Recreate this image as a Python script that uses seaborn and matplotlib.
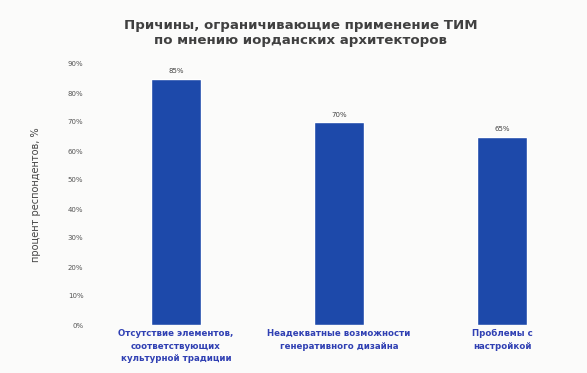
import matplotlib
matplotlib.use("Agg")
import matplotlib.pyplot as plt
import seaborn as sns
import pandas as pd

categories = ["Отсутствие элементов,\nсоответствующих\nкультурной традиции",
              "Неадекватные возможности\nгенеративного дизайна",
              "Проблемы с\nнастройкой"]
values = [85, 70, 65]
yticks = [0, 10, 20, 30, 40, 50, 60, 70, 80, 90]
ytick_labels = [f"{v}%" for v in yticks]
title = "Причины, ограничивающие применение ТИМ\nпо мнению иорданских архитекторов"
ylabel = "процент респондентов, %"

sns.set_theme(style="white")
plt.rcParams['font.family'] = ['DejaVu Sans']

df = pd.DataFrame({"cat": categories, "val": values})
fig = plt.figure(figsize=(5.87, 3.73), dpi=100)
fig.patch.set_facecolor("#fbfbfa")
ax = fig.add_axes([94.5/587, (373-325)/373, 489/587, (325-64)/373])
ax.set_facecolor("#fbfbfa")
sns.barplot(data=df, x="cat", y="val", color="#1d49aa", width=0.31, ax=ax, saturation=1)
ax.set_xlim(-0.5, 2.5)
ax.set_ylim(0, 90)
ax.set_yticks(yticks)
ax.set_yticklabels(ytick_labels, fontsize=5, color="#555555")
ax.tick_params(axis="y", length=0, pad=8)
ax.tick_params(axis="x", length=0, pad=3)
ax.set_xticks(range(len(categories)))
ax.set_xticklabels(categories, fontsize=6.2, color="#3040b3", fontweight="bold", linespacing=1.5)
for s in ax.spines.values():
    s.set_visible(False)
ax.set_xlabel("")
ax.set_ylabel(ylabel, fontsize=7, color="#444444", labelpad=19)
for i, v in enumerate(values):
    ax.text(i, v + 1.5, f"{v}%", ha="center", va="bottom", fontsize=5, color="#444444")
fig.text(0.512, 0.95, title, ha="center", va="top", fontsize=9.6, color="#404040",
         fontweight="semibold", linespacing=1.2)
fig.savefig("out.png", dpi=100, facecolor=fig.get_facecolor())
